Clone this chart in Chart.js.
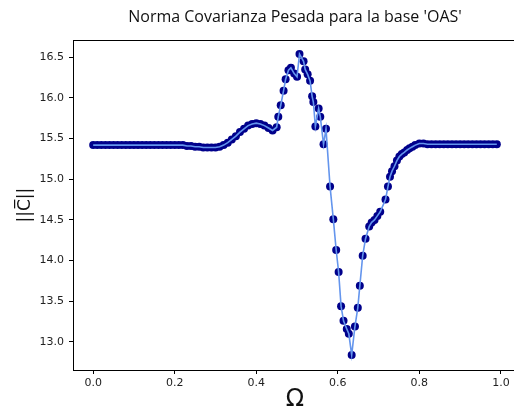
<!DOCTYPE html>
<html>
<head>
<meta charset="utf-8">
<script src="https://cdn.jsdelivr.net/npm/chart.js@4/dist/chart.umd.min.js"></script>
<style>
  html, body { margin: 0; padding: 0; background: #fff; overflow: hidden; }
  #chartBox { width: 524px; height: 416px; }
</style>
</head>
<body>
<div id="chartBox"><canvas id="normaChart" width="524" height="416"></canvas></div>
<script>
// omega values and the weighted covariance norm for each one
const omega = [
  0.00, 0.01, 0.02, 0.03, 0.04, 0.05, 0.06, 0.07, 0.08, 0.09,
  0.10, 0.11, 0.12, 0.13, 0.14, 0.15, 0.16, 0.17, 0.18, 0.19,
  0.20, 0.21, 0.22, 0.23, 0.24, 0.25, 0.26, 0.27, 0.28, 0.29,
  0.30, 0.31, 0.32, 0.33, 0.34, 0.35, 0.36, 0.37, 0.38, 0.39,
  0.40, 0.41, 0.42, 0.43, 0.44,
  0.450, 0.454, 0.460, 0.467, 0.472, 0.479, 0.485, 0.493, 0.500, 0.506,
  0.516, 0.520, 0.526, 0.532, 0.537, 0.540, 0.545, 0.553, 0.557, 0.565,
  0.571, 0.581, 0.589, 0.596, 0.602, 0.608, 0.614, 0.622, 0.627, 0.634,
  0.642, 0.649, 0.654, 0.661, 0.668, 0.677, 0.683, 0.690, 0.697, 0.704,
  0.717, 0.723, 0.728, 0.733, 0.739, 0.745, 0.751, 0.757, 0.763, 0.770,
  0.776, 0.783, 0.790,
  0.80, 0.81, 0.82, 0.83, 0.84, 0.85, 0.86, 0.87, 0.88, 0.89,
  0.90, 0.91, 0.92, 0.93, 0.94, 0.95, 0.96, 0.97, 0.98, 0.99
];
const norma = [
  15.42, 15.42, 15.42, 15.42, 15.42, 15.42, 15.42, 15.42, 15.42, 15.42,
  15.42, 15.42, 15.42, 15.42, 15.42, 15.42, 15.42, 15.42, 15.42, 15.42,
  15.42, 15.42, 15.42, 15.41, 15.41, 15.40, 15.40, 15.39, 15.39, 15.39,
  15.39, 15.40, 15.42, 15.45, 15.49, 15.53, 15.58, 15.62, 15.66, 15.68,
  15.69, 15.68, 15.66, 15.63, 15.60,
  15.64, 15.77, 15.91, 16.09, 16.23, 16.34, 16.37, 16.30, 16.26, 16.54,
  16.45, 16.35, 16.29, 16.21, 16.02, 15.95, 15.65, 15.87, 15.77, 15.43,
  15.62, 14.91, 14.51, 14.13, 13.86, 13.44, 13.26, 13.16, 13.10, 12.84,
  13.19, 13.42, 13.69, 14.06, 14.27, 14.42, 14.47, 14.50, 14.55, 14.60,
  14.75, 14.91, 15.03, 15.10, 15.16, 15.23, 15.28, 15.31, 15.33, 15.36,
  15.38, 15.40, 15.42,
  15.44, 15.44, 15.43, 15.43, 15.43, 15.43, 15.43, 15.43, 15.43, 15.43,
  15.43, 15.43, 15.43, 15.43, 15.43, 15.43, 15.43, 15.43, 15.43, 15.43
];
const xTicks = [0.0, 0.2, 0.4, 0.6, 0.8, 1.0];
const yTicks = [13.0, 13.5, 14.0, 14.5, 15.0, 15.5, 16.0, 16.5];

const puntos = omega.map((x, i) => ({ x: x, y: norma[i] }));

// box around the plotting area
const marco = {
  id: 'marco',
  beforeDatasetsDraw(chart) {
    const a = chart.chartArea, ctx = chart.ctx;
    ctx.save();
    ctx.strokeStyle = '#000';
    ctx.lineWidth = 1;
    ctx.strokeRect(Math.round(a.left) + 0.5, Math.round(a.top) + 0.5,
      Math.round(a.right - a.left), Math.round(a.bottom - a.top));
    ctx.restore();
  }
};

const tickFont = { family: 'DejaVu Sans', size: 11 };

new Chart(document.getElementById('normaChart'), {
  type: 'scatter',
  data: {
    datasets: [
      {
        label: 'linea',
        data: puntos,
        showLine: true,
        borderColor: '#6495ed',
        borderWidth: 1.6,
        pointRadius: 0,
        fill: false
      },
      {
        label: 'puntos',
        data: puntos,
        pointRadius: 4,
        pointBackgroundColor: '#00008b',
        pointBorderWidth: 0
      }
    ]
  },
  options: {
    responsive: false,
    animation: false,
    layout: { padding: { left: 0, right: 7, top: 0, bottom: 0 } },
    plugins: {
      legend: { display: false },
      tooltip: { enabled: false },
      title: {
        display: true,
        fullSize: false,
        text: "Norma Covarianza Pesada para la base 'OAS'",
        color: '#111',
        font: { family: 'Open Sans', size: 16, weight: 'normal' },
        padding: { top: 8, bottom: 13 }
      }
    },
    scales: {
      x: {
        type: 'linear',
        min: -0.0495,
        max: 1.0395,
        afterFit: s => { s.height = 46; },
        afterBuildTicks: s => { s.ticks = xTicks.map(v => ({ value: v })); },
        border: { display: false },
        grid: { drawOnChartArea: false, drawTicks: true, tickLength: 4, color: '#000' },
        ticks: {
          includeBounds: false,
          padding: 3,
          maxRotation: 0,
          color: '#222',
          font: tickFont,
          callback: v => v.toFixed(1)
        },
        title: {
          display: true,
          text: 'Ω',
          color: '#111',
          font: { family: 'DejaVu Sans', size: 24 },
          padding: { top: 0, bottom: 2 }
        }
      },
      y: {
        type: 'linear',
        min: 12.655,
        max: 16.71,
        afterFit: s => { s.width = 73; },
        afterBuildTicks: s => { s.ticks = yTicks.map(v => ({ value: v })); },
        border: { display: false },
        grid: { drawOnChartArea: false, drawTicks: true, tickLength: 4, color: '#000' },
        ticks: {
          includeBounds: false,
          padding: 5,
          color: '#222',
          font: tickFont,
          callback: v => v.toFixed(1)
        },
        title: {
          display: true,
          text: '||C\u0305||',
          color: '#111',
          font: { family: 'DejaVu Sans', size: 17 },
          padding: { top: 15, bottom: 0 }
        }
      }
    }
  },
  plugins: [marco]
});
</script>
</body>
</html>
